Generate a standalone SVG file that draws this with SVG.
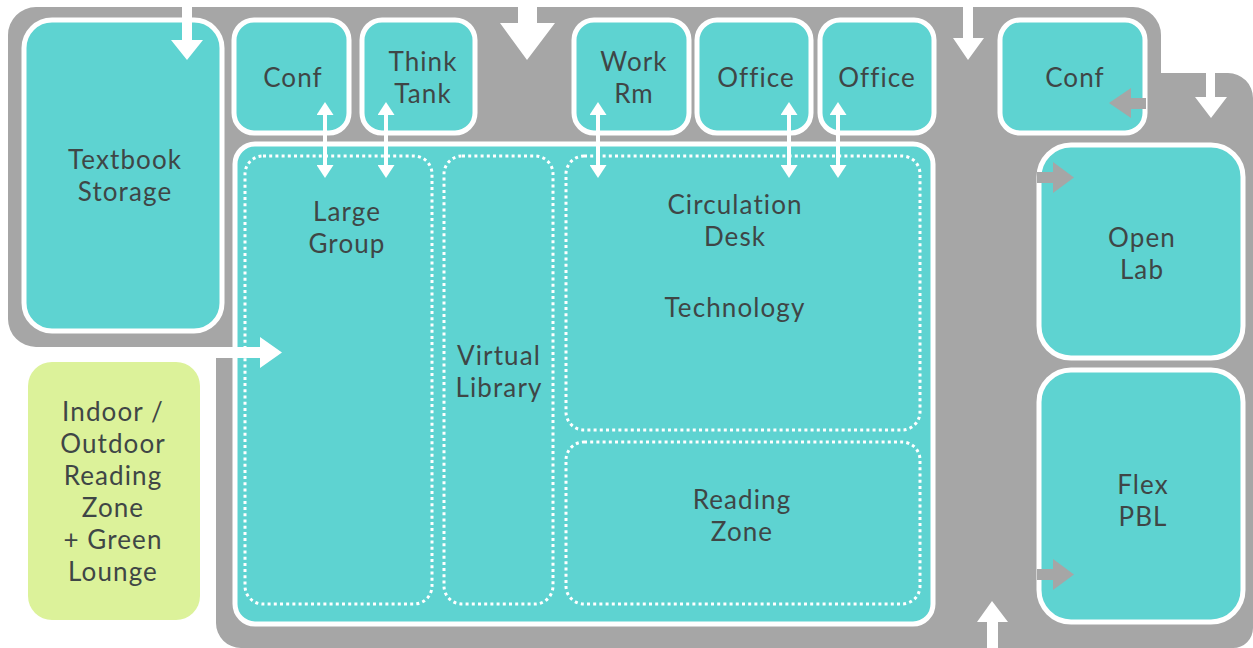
<svg xmlns="http://www.w3.org/2000/svg" width="1253" height="648" viewBox="0 0 1253 648">
<style>
.room{fill:#5ed3d1;stroke:#ffffff;stroke-width:5}
.zone{fill:none;stroke:#ffffff;stroke-width:3;stroke-dasharray:3 3.2}
.lbl{font-family:Lato,"Noto Sans",sans-serif;font-size:26px;letter-spacing:1.1px;fill:#3f4646;text-anchor:middle}
.wa{fill:#ffffff}
.ga{fill:#a6a6a6}
.dbl{stroke:#ffffff;stroke-width:4;fill:none;marker-start:url(#ah);marker-end:url(#ah)}
</style>
<defs>
<marker id="ah" viewBox="0 0 13 17" refX="3" refY="8.5" markerWidth="13" markerHeight="17" markerUnits="userSpaceOnUse" orient="auto-start-reverse">
<path d="M0,0 L13,8.5 L0,17 Z" fill="#ffffff"/>
</marker>
</defs>
<rect width="1253" height="648" fill="#ffffff"/>
<path id="corridor" fill="#a6a6a6" d="M36,7 H1133 A28 28 0 0 1 1161 35 V73 H1228 A25 25 0 0 1 1253 98 V628 A20 20 0 0 1 1233 648 H241 A25 25 0 0 1 216 623 V358 H236 V347 H36 A28 28 0 0 1 8 319 V35 A28 28 0 0 1 36 7 Z"/>
<g id="textbook-storage"><rect class="room" x="24" y="20" width="198" height="311" rx="28"/><text class="lbl" x="125" y="169">Textbook</text><text class="lbl" x="125" y="201">Storage</text></g>
<g id="conf-1"><rect class="room" x="234" y="20" width="115" height="113" rx="20"/><text class="lbl" x="293" y="87">Conf</text></g>
<g id="think-tank"><rect class="room" x="362" y="20" width="113" height="113" rx="20"/><text class="lbl" x="423" y="71">Think</text><text class="lbl" x="423" y="103">Tank</text></g>
<g id="work-rm"><rect class="room" x="574" y="20" width="115" height="113" rx="20"/><text class="lbl" x="634" y="71">Work</text><text class="lbl" x="634" y="103">Rm</text></g>
<g id="office-1"><rect class="room" x="697" y="20" width="114" height="113" rx="20"/><text class="lbl" x="756" y="87">Office</text></g>
<g id="office-2"><rect class="room" x="820" y="20" width="114" height="113" rx="20"/><text class="lbl" x="877" y="87">Office</text></g>
<g id="conf-2"><rect class="room" x="1000" y="20" width="145" height="113" rx="20"/><text class="lbl" x="1075" y="87">Conf</text></g>
<g id="open-lab"><rect class="room" x="1039" y="145" width="204" height="213" rx="32"/><text class="lbl" x="1142" y="247">Open</text><text class="lbl" x="1142" y="279">Lab</text></g>
<g id="flex-pbl"><rect class="room" x="1039" y="370" width="204" height="252" rx="32"/><text class="lbl" x="1143" y="494">Flex</text><text class="lbl" x="1143" y="526">PBL</text></g>
<g id="indoor-outdoor"><rect x="28" y="362" width="172" height="258" rx="24" fill="#dcf29a"/><text class="lbl" x="113" y="421">Indoor /</text><text class="lbl" x="113" y="453">Outdoor</text><text class="lbl" x="113" y="485">Reading</text><text class="lbl" x="113" y="517">Zone</text><text class="lbl" x="113" y="549">+ Green</text><text class="lbl" x="113" y="581">Lounge</text></g>
<g id="library"><rect class="room" x="235" y="144" width="698" height="480" rx="20"/>
<g id="large-group"><rect class="zone" x="245" y="156" width="187" height="448" rx="18"/><text class="lbl" x="347" y="221">Large</text><text class="lbl" x="347" y="253">Group</text></g>
<g id="virtual-library"><rect class="zone" x="444" y="156" width="109" height="448" rx="18"/><text class="lbl" x="499" y="365">Virtual</text><text class="lbl" x="499" y="397">Library</text></g>
<g id="circulation"><rect class="zone" x="566" y="156" width="354" height="274" rx="18"/><text class="lbl" x="735" y="214">Circulation</text><text class="lbl" x="735" y="246">Desk</text><text class="lbl" x="735" y="317">Technology</text></g>
<g id="reading-zone"><rect class="zone" x="566" y="442" width="354" height="162" rx="18"/><text class="lbl" x="742" y="509">Reading</text><text class="lbl" x="742" y="541">Zone</text></g>
</g>
<g id="connectors">
<path class="wa" d="M182,-1 H192 V40 H203 L187,60 L171,40 H182 Z"/>
<path class="wa" d="M518,-1 H537 V23 H555 L527,60 L500,23 H518 Z"/>
<path class="wa" d="M963,-1 H973 V38 H984 L968,60 L953,38 H963 Z"/>
<path class="wa" d="M1206,73 H1215 V97 H1227 L1211,118 L1195,97 H1206 Z"/>
<path class="wa" d="M155,347 H260 V337 L282,352.5 L260,368 V358 H155 Z"/>
<path class="wa" d="M987,649 H998 V622 H1008 L992,601 L977,622 H987 Z"/>
<path class="ga" d="M1146,98 H1131 V88 L1109,103 L1131,118 V109 H1146 Z"/>
<path class="ga" d="M1037,172 H1053 V162 L1074,177.5 L1053,193 V183 H1037 Z"/>
<path class="ga" d="M1037,569 H1053 V559 L1074,574.5 L1053,590 V580 H1037 Z"/>
<line class="dbl" x1="325" y1="112" x2="325" y2="168"/>
<line class="dbl" x1="386" y1="112" x2="386" y2="168"/>
<line class="dbl" x1="598" y1="112" x2="598" y2="168"/>
<line class="dbl" x1="789" y1="112" x2="789" y2="168"/>
<line class="dbl" x1="838" y1="112" x2="838" y2="168"/>
</g>
</svg>
